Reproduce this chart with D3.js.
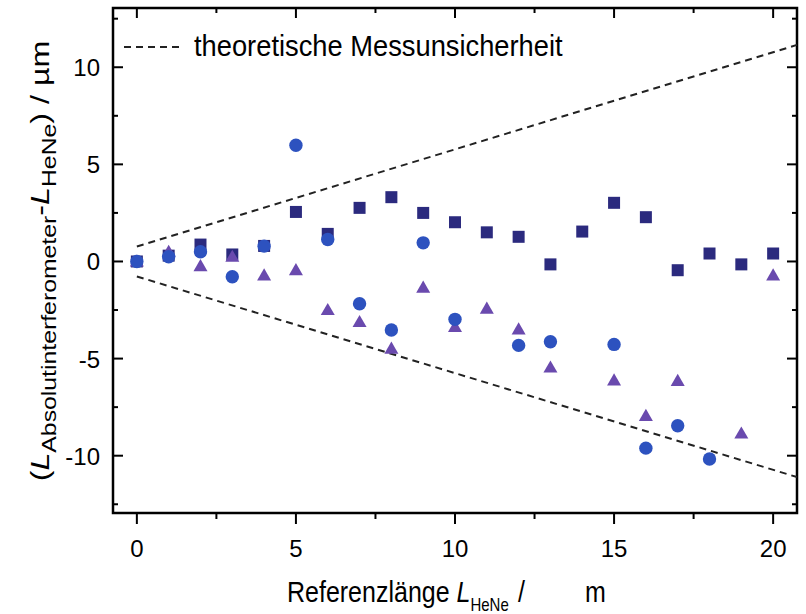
<!DOCTYPE html>
<html>
<head>
<meta charset="utf-8">
<script src="https://cdn.jsdelivr.net/npm/d3@7"></script>
<style>
  body { margin: 0; background: #fff; }
  svg { display: block; font-family: "Liberation Sans", Arial, sans-serif; }
</style>
</head>
<body>
<svg id="chart" width="806" height="614"></svg>
<script>
// Referenzlänge in m
const lengths = d3.range(0, 21);
// deviations in µm, null = no measurement
const squareValues = [0, 0.3, 0.87, 0.36, 0.8, 2.55, 1.42, 2.76, 3.31, 2.5, 2.02, 1.5, 1.27, -0.15, 1.54, 3.02, 2.28, -0.45, 0.41, -0.15, 0.41];
const triangleValues = [0, 0.5, -0.24, 0.24, -0.72, -0.45, -2.5, -3.12, -4.49, -1.35, -3.37, -2.43, -3.5, -5.46, null, -6.12, -7.95, -6.15, null, -8.86, -0.72];
const circleValues = [0, 0.24, 0.5, -0.79, 0.79, 5.98, 1.13, -2.18, -3.53, 0.96, -2.98, null, -4.32, -4.13, null, -4.27, -9.61, -8.46, -10.17, null, null];
// theoretical uncertainty bounds
const boundX = [0, 20.75];
const boundUpper = [0.77, 11.15];
const boundLower = [-0.77, -11.1];

const xTicks = [0, 5, 10, 15, 20];
const xMinor = [2.5, 7.5, 12.5, 17.5];
const yTicks = [-10, -5, 0, 5, 10];
const yMinor = [-12.5, -7.5, -2.5, 2.5, 7.5, 12.5];

const svg = d3.select('#chart');
const m = {left: 113, right: 797, top: 8, bottom: 513};

const x = d3.scaleLinear().domain([-0.75, 20.75]).range([m.left, m.right]);
const y = d3.scaleLinear().domain([-12.95, 13.05]).range([m.bottom, m.top]);

// ticks: bottom outward, the others inward
const ax = svg.append('g').attr('stroke', '#000').attr('stroke-width', 2);
xTicks.forEach(v => {
  ax.append('line').attr('x1', x(v)).attr('x2', x(v)).attr('y1', m.bottom).attr('y2', m.bottom + 11);
  ax.append('line').attr('x1', x(v)).attr('x2', x(v)).attr('y1', m.top).attr('y2', m.top + 10);
});
xMinor.forEach(v => {
  ax.append('line').attr('x1', x(v)).attr('x2', x(v)).attr('y1', m.bottom).attr('y2', m.bottom + 6);
  ax.append('line').attr('x1', x(v)).attr('x2', x(v)).attr('y1', m.top).attr('y2', m.top + 5);
});
yTicks.forEach(v => {
  ax.append('line').attr('x1', m.left).attr('x2', m.left + 10).attr('y1', y(v)).attr('y2', y(v));
  ax.append('line').attr('x1', m.right - 10).attr('x2', m.right).attr('y1', y(v)).attr('y2', y(v));
});
yMinor.forEach(v => {
  ax.append('line').attr('x1', m.left).attr('x2', m.left + 5).attr('y1', y(v)).attr('y2', y(v));
  ax.append('line').attr('x1', m.right - 5).attr('x2', m.right).attr('y1', y(v)).attr('y2', y(v));
});

svg.append('rect')
  .attr('x', m.left).attr('y', m.top)
  .attr('width', m.right - m.left).attr('height', m.bottom - m.top)
  .attr('fill', 'none').attr('stroke', '#000').attr('stroke-width', 2.5);

// tick labels
svg.append('g').selectAll('text').data(xTicks).join('text')
  .attr('x', d => x(d)).attr('y', m.bottom + 44)
  .attr('text-anchor', 'middle').attr('font-size', 24).attr('fill', '#000')
  .text(d => d);
svg.append('g').selectAll('text').data(yTicks).join('text')
  .attr('x', m.left - 13).attr('y', d => y(d) + 9)
  .attr('text-anchor', 'end').attr('font-size', 24).attr('fill', '#000')
  .text(d => d);

// dashed uncertainty lines
const line = d3.line().x(d => x(d[0])).y(d => y(d[1]));
[boundUpper, boundLower].forEach(b => {
  svg.append('path')
    .attr('d', line(boundX.map((v, i) => [v, b[i]])))
    .attr('fill', 'none').attr('stroke', '#222')
    .attr('stroke-width', 2).attr('stroke-dasharray', '7,5');
});

// markers
const pts = vals => lengths.map((l, i) => ({l, v: vals[i]})).filter(d => d.v != null);
const plot = svg.append('g');
plot.selectAll('rect.sq').data(pts(squareValues)).join('rect')
  .attr('x', d => x(d.l) - 6).attr('y', d => y(d.v) - 6)
  .attr('width', 12).attr('height', 12)
  .attr('fill', '#2b2a7e');
plot.selectAll('path.tri').data(pts(triangleValues)).join('path')
  .attr('d', d3.symbol(d3.symbolTriangle, 85))
  .attr('transform', d => `translate(${x(d.l)},${y(d.v) + 1})`)
  .attr('fill', '#6a4aae');
plot.selectAll('circle').data(pts(circleValues)).join('circle')
  .attr('cx', d => x(d.l)).attr('cy', d => y(d.v)).attr('r', 6.7)
  .attr('fill', '#2d52bf');

// legend
svg.append('line')
  .attr('x1', 124).attr('x2', 180).attr('y1', 47).attr('y2', 47)
  .attr('stroke', '#222').attr('stroke-width', 2).attr('stroke-dasharray', '7,5');
svg.append('text')
  .attr('transform', 'translate(194,56) scale(1,1.1)')
  .attr('font-size', 27.3).attr('fill', '#000')
  .text('theoretische Messunsicherheit');

// axis titles
const xt = svg.append('text')
  .attr('transform', 'translate(287,602) scale(1,1.2)')
  .attr('font-size', 25).attr('fill', '#000');
xt.append('tspan').text('Referenzlänge ');
xt.append('tspan').attr('font-style', 'italic').text('L');
xt.append('tspan').attr('font-size', 15).attr('dy', 7.5).text('HeNe');
xt.append('tspan').attr('dy', -7.5).attr('x', 231).text('/');
xt.append('tspan').attr('x', 298).text('m');

const yt = svg.append('text')
  .attr('transform', `translate(49,261) rotate(-90) scale(1.24,1)`)
  .attr('text-anchor', 'middle').attr('font-size', 26).attr('fill', '#000');
yt.append('tspan').text('(');
yt.append('tspan').attr('font-style', 'italic').text('L');
yt.append('tspan').attr('font-size', 20).attr('dy', 7).text('Absolutinterferometer');
yt.append('tspan').attr('dy', -7).text('-');
yt.append('tspan').attr('font-style', 'italic').text('L');
yt.append('tspan').attr('font-size', 20).attr('dy', 7).text('HeNe');
yt.append('tspan').attr('dy', -7).text(') / µm');
</script>
</body>
</html>
